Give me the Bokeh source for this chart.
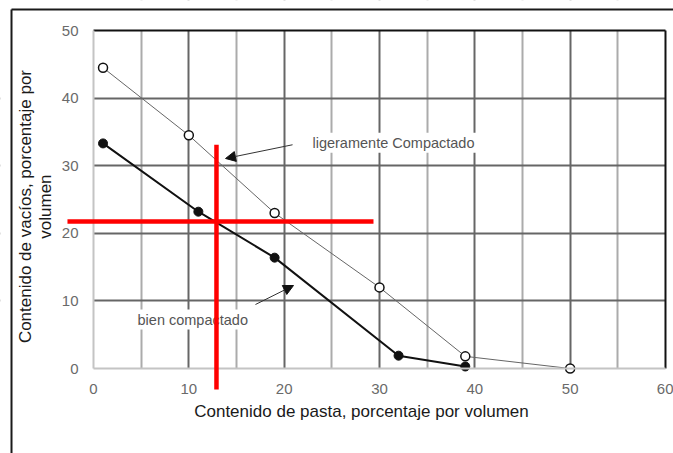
import math
from bokeh.plotting import figure
from bokeh.models import Arrow, NormalHead, Label, FixedTicker, Range1d
from bokeh.embed import file_html
from bokeh.resources import INLINE

# ---- data ----
light_x = [1, 10, 19, 30, 39, 50]
light_y = [44.5, 34.5, 23.0, 12.0, 1.8, 0.0]
well_x = [1, 11, 19, 32, 39]
well_y = [33.3, 23.2, 16.4, 1.9, 0.3]
x_ticks = [0, 10, 20, 30, 40, 50, 60]
y_ticks = [0, 10, 20, 30, 40, 50]
x_grid_major = [10, 20, 30, 40, 50]
x_grid_minor = [5, 15, 25, 35, 45, 55]
y_grid_major = [10, 20, 30, 40]
x_title = "Contenido de pasta, porcentaje por volumen"
y_title_1 = "Contenido de vacíos, porcentaje por"
y_title_2 = "volumen"
label_light = "ligeramente  Compactado"
label_well = "bien compactado"

# red crosshair (reading marks)
cross_x, cross_y0, cross_y1 = 12.90, 33.1, -3.1
cross_y, cross_x0, cross_x1 = 21.75, -2.73, 29.37

# ---- layout ----
XMIN, XMAX = 0, 60
YMIN, YMAX = 0, 50
X0, X1 = -9.755, 60.84       # canvas extent in data units
Y0, Y1 = -12.57, 54.44
BOX_X, BOX_Y = -8.60, 53.11   # outer frame lines

FONT = "Liberation Sans"

p = figure(width=673, height=453, output_backend="svg", toolbar_location=None,
           x_range=Range1d(X0, X1), y_range=Range1d(Y0, Y1),
           min_border=0, min_border_left=0, min_border_right=0,
           min_border_top=0, min_border_bottom=0)
p.outline_line_color = None
p.background_fill_color = "white"
p.border_fill_color = "white"

# grids
p.xgrid.ticker = FixedTicker(ticks=x_grid_major, minor_ticks=x_grid_minor)
p.ygrid.ticker = FixedTicker(ticks=y_grid_major)
p.xgrid.grid_line_color = "#666666"
p.xgrid.grid_line_width = 2
p.xgrid.minor_grid_line_color = "#ababab"
p.xgrid.minor_grid_line_width = 2
p.ygrid.grid_line_color = "#666666"
p.ygrid.grid_line_width = 2

# axes fixed at the origin
xa = p.xaxis[0]
ya = p.yaxis[0]
xa.fixed_location = 0
ya.fixed_location = 0
xa.bounds = (XMIN, XMAX)
ya.bounds = (YMIN, YMAX)
xa.ticker = FixedTicker(ticks=x_ticks)
ya.ticker = FixedTicker(ticks=y_ticks)
for ax in (xa, ya):
    ax.axis_line_color = "#c4c4c4"
    ax.axis_line_width = 2
    ax.major_tick_line_color = None
    ax.minor_tick_line_color = None
    ax.major_tick_out = 0
    ax.major_tick_in = 0
    ax.minor_tick_out = 0
    ax.minor_tick_in = 0
    ax.major_label_text_font = FONT
    ax.major_label_text_font_size = "15px"
    ax.major_label_text_color = "#6a6a6a"
    ax.major_label_standoff = 15
    ax.axis_label = None

# white covers outside the plotting area (hide grid lines there)
p.quad(left=[X0, XMAX, X0, X0], right=[XMIN, X1, X1, X1],
       bottom=[Y0, Y0, Y0, YMAX], top=[Y1, Y1, YMIN, Y1],
       fill_color="white", line_color=None)

# plot-area top / right edges
p.segment(x0=[XMIN, XMAX], y0=[YMAX, YMIN], x1=[XMAX, XMAX], y1=[YMAX, YMAX],
          line_color="#111111", line_width=2)
# outer frame of the picture (top and left)
p.segment(x0=[BOX_X, BOX_X], y0=[BOX_Y, BOX_Y], x1=[X1, BOX_X], y1=[BOX_Y, Y0],
          line_color="#1a1a1a", line_width=2)

# series
p.line(light_x, light_y, line_color="#666666", line_width=1)
p.scatter(light_x, light_y, size=9, fill_color="white", line_color="#111111", line_width=1.5)
p.line(well_x, well_y, line_color="#111111", line_width=2)
p.scatter(well_x, well_y, size=9, fill_color="#111111", line_color="#111111")

# annotations
p.add_layout(Label(x=22.76, y=33.4, text=label_light, text_font=FONT,
                   text_font_size="14.5px", text_color="#555555", text_baseline="middle",
                   background_fill_color="white", background_fill_alpha=1.0, padding=2))
p.add_layout(Label(x=4.41, y=7.25, text=label_well, text_font=FONT,
                   text_font_size="14.5px", text_color="#555555", text_baseline="middle",
                   background_fill_color="white", background_fill_alpha=1.0, padding=2))
p.add_layout(Arrow(x_start=20.88, y_start=33.1, x_end=13.85, y_end=31.07,
                   line_color="#333333", line_width=1,
                   end=NormalHead(size=10, fill_color="#111111", line_color="#111111")))
p.add_layout(Arrow(x_start=16.99, y_start=9.47, x_end=20.98, y_end=12.28,
                   line_color="#333333", line_width=1,
                   end=NormalHead(size=10, fill_color="#111111", line_color="#111111")))

# axis titles
p.add_layout(Label(x=28.11, y=-6.36, text=x_title, text_font=FONT, text_font_size="17px",
                   text_color="#1a1a1a", text_align="center", text_baseline="middle"))
p.add_layout(Label(x=-7.13, y=23.96, text=y_title_1, text_font=FONT, text_font_size="17px",
                   text_color="#1a1a1a", text_align="center", text_baseline="middle",
                   angle=math.pi / 2))
p.add_layout(Label(x=-5.04, y=23.96, text=y_title_2, text_font=FONT, text_font_size="17px",
                   text_color="#1a1a1a", text_align="center", text_baseline="middle",
                   angle=math.pi / 2))

# red crosshair on top of everything
r1 = p.segment(x0=[cross_x, cross_x0], y0=[cross_y0, cross_y],
               x1=[cross_x, cross_x1], y1=[cross_y1, cross_y],
               line_color="#ff0000", line_width=4.5)
r1.level = "overlay"

open("out.html", "w").write(file_html(p, INLINE))
